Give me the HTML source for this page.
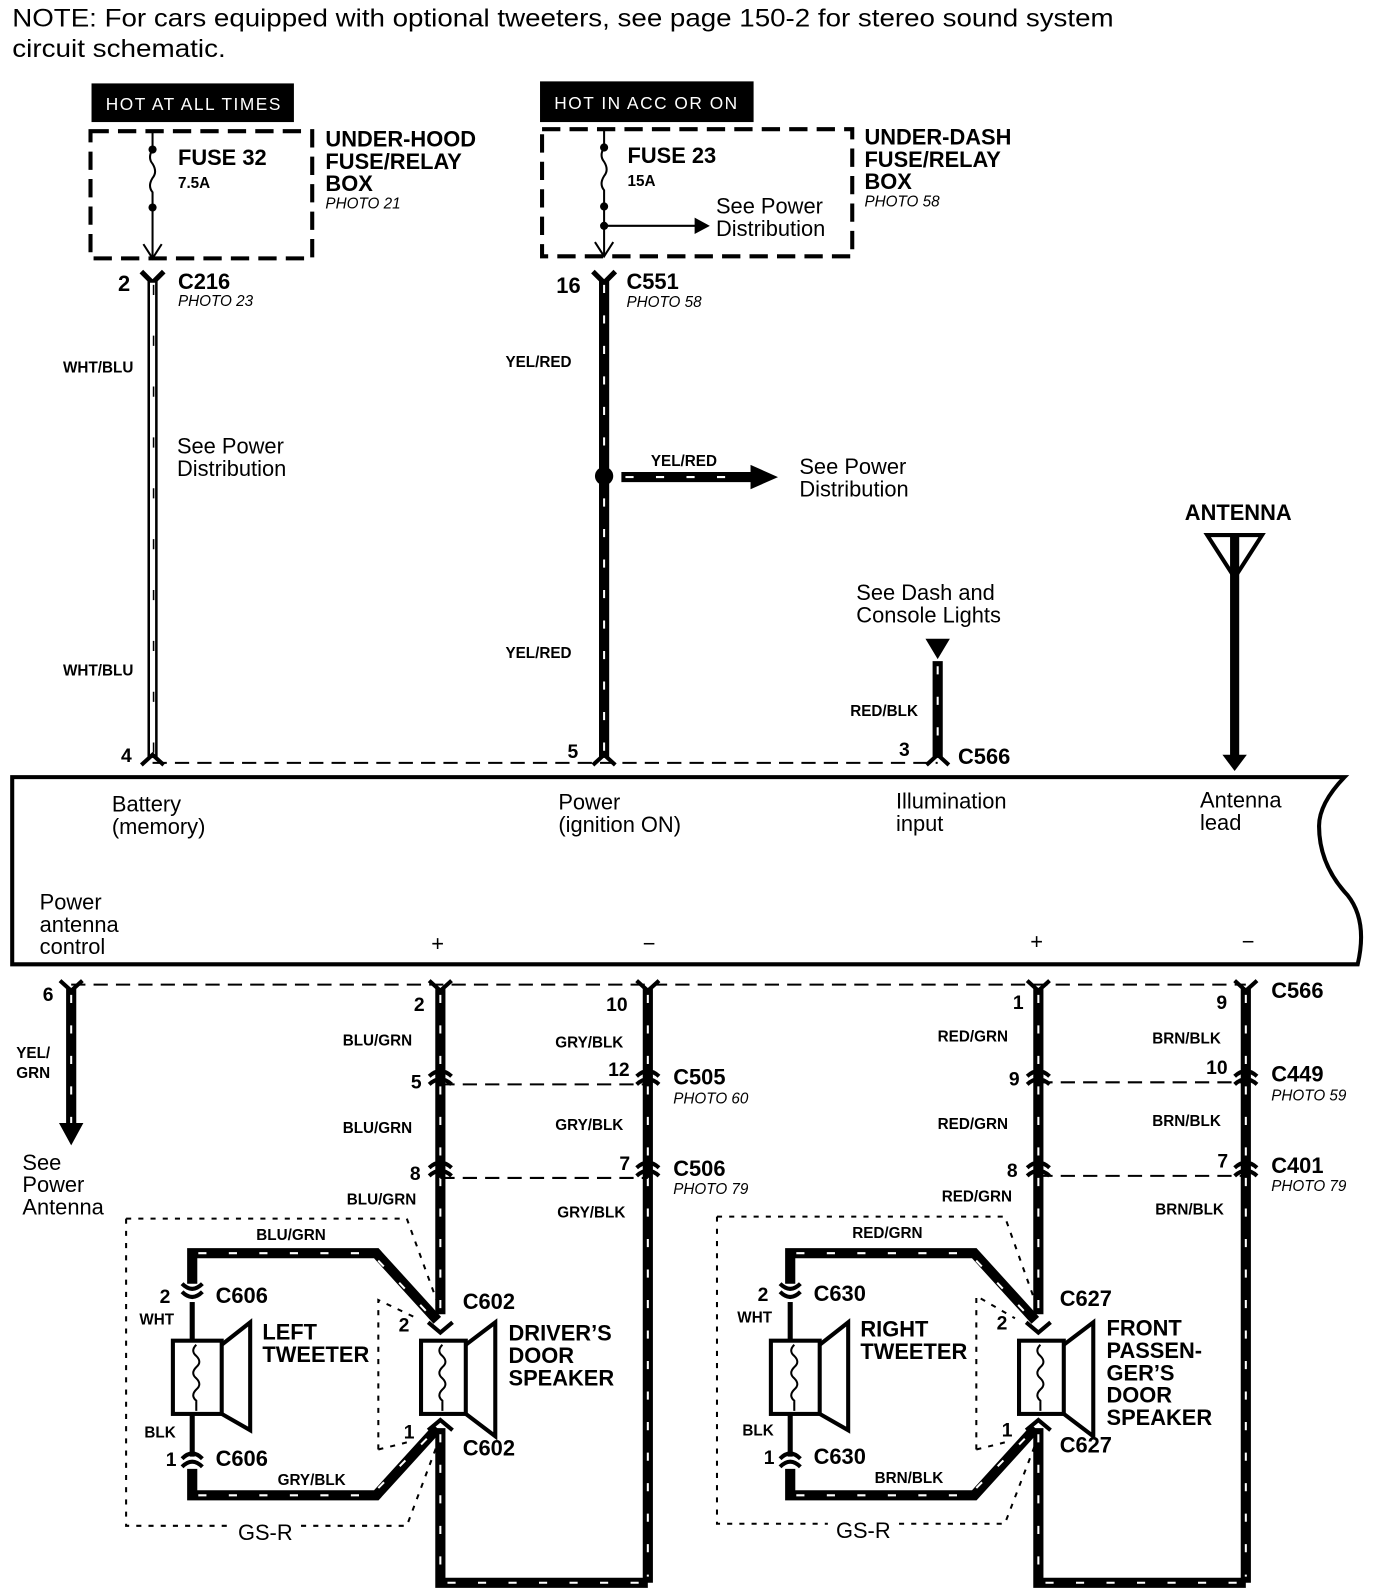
<!DOCTYPE html>
<html><head><meta charset="utf-8"><style>
html,body{margin:0;padding:0;background:#fff;}
svg{display:block;font-family:"Liberation Sans",sans-serif;}
.b{font-weight:bold;}
text[font-size="20"]{font-size:21.5px;}
text[font-size="14"]{font-size:15px;}
text[font-size="18"]{font-size:19px;}
.w{fill:none;stroke:#000;stroke-width:10;}
.s{fill:none;stroke:#fff;stroke-width:2;stroke-dasharray:8 22;}
.d{fill:none;stroke:#000;stroke-width:2;stroke-dasharray:14 8;}
.dd{fill:none;stroke:#000;stroke-width:2;stroke-dasharray:5 7;}
.bx{fill:none;stroke:#000;stroke-width:4;stroke-dasharray:18 9;}
</style></head><body>
<svg width="1376" height="1596" viewBox="0 0 1353 1569" preserveAspectRatio="none" xmlns="http://www.w3.org/2000/svg">
<text x="12" y="26" style="font-size:25px" textLength="1083" lengthAdjust="spacingAndGlyphs">NOTE: For cars equipped with optional tweeters, see page 150-2 for stereo sound system</text>
<text x="12" y="56" style="font-size:25px" textLength="210" lengthAdjust="spacingAndGlyphs">circuit schematic.</text>

<!-- Fuse box 1 -->
<rect x="90" y="82" width="199" height="38" fill="#000"/>
<text x="104" y="108" font-size="17" fill="#fff" letter-spacing="1.5">HOT AT ALL TIMES</text>
<rect x="89" y="129" width="218" height="125" class="bx"/>
<line x1="150" y1="129" x2="150" y2="145" stroke="#000" stroke-width="2"/>
<circle cx="150" cy="147" r="4"/>
<path d="M150 147 q-5 8 0 14 q5 8 0 14 q-5 8 0 14 l0 15" fill="none" stroke="#000" stroke-width="2"/>
<circle cx="150" cy="204" r="4"/>
<line x1="150" y1="204" x2="150" y2="254" stroke="#000" stroke-width="2"/>
<path d="M141 240 L150 254 L159 240" fill="none" stroke="#000" stroke-width="2"/>
<text x="175" y="162" font-size="20" class="b">FUSE 32</text>
<text x="175" y="185" font-size="14" class="b">7.5A</text>
<text x="320" y="144" font-size="20" class="b">UNDER-HOOD</text>
<text x="320" y="166" font-size="20" class="b">FUSE/RELAY</text>
<text x="320" y="188" font-size="20" class="b">BOX</text>
<text x="320" y="205" font-size="14" font-style="italic">PHOTO 21</text>

<!-- C216 wire -->
<path d="M139 267 L150 278 L161 267" fill="none" stroke="#000" stroke-width="5"/>
<line x1="150" y1="276" x2="150" y2="745" stroke="#000" stroke-width="10"/>
<line x1="150" y1="278" x2="150" y2="743" stroke="#fff" stroke-width="5"/>
<line x1="151" y1="280" x2="151" y2="743" stroke="#000" stroke-width="1.5" stroke-dasharray="10 40"/>
<path d="M139 752 L150 742 L161 752" fill="none" stroke="#000" stroke-width="4"/>
<text x="116" y="286" font-size="20" class="b">2</text>
<text x="175" y="284" font-size="20" class="b">C216</text>
<text x="175" y="301" font-size="14" font-style="italic">PHOTO 23</text>
<text x="62" y="366" font-size="14" class="b">WHT/BLU</text>
<text x="62" y="664" font-size="14" class="b">WHT/BLU</text>
<text x="174" y="446" font-size="20">See Power</text>
<text x="174" y="468" font-size="20">Distribution</text>
<text x="119" y="749" font-size="18" class="b">4</text>

<!-- Fuse box 2 -->
<rect x="531" y="80" width="210" height="40" fill="#000"/>
<text x="545" y="107" font-size="17" fill="#fff" letter-spacing="1.5">HOT IN ACC OR ON</text>
<rect x="533" y="127" width="305" height="125" class="bx"/>
<line x1="594" y1="127" x2="594" y2="143" stroke="#000" stroke-width="2"/>
<circle cx="594" cy="145" r="4"/>
<path d="M594 145 q-5 8 0 14 q5 8 0 14 q-5 8 0 14 l0 16" fill="none" stroke="#000" stroke-width="2"/>
<circle cx="594" cy="203" r="4"/>
<circle cx="594" cy="222" r="4"/>
<line x1="594" y1="203" x2="594" y2="252" stroke="#000" stroke-width="2"/>
<path d="M585 238 L594 252 L603 238" fill="none" stroke="#000" stroke-width="2"/>
<line x1="594" y1="222" x2="686" y2="222" stroke="#000" stroke-width="2"/>
<path d="M683 214 L698 222 L683 230 Z"/>
<text x="617" y="160" font-size="20" class="b">FUSE 23</text>
<text x="617" y="183" font-size="14" class="b">15A</text>
<text x="704" y="210" font-size="20">See Power</text>
<text x="704" y="232" font-size="20">Distribution</text>
<text x="850" y="142" font-size="20" class="b">UNDER-DASH</text>
<text x="850" y="164" font-size="20" class="b">FUSE/RELAY</text>
<text x="850" y="186" font-size="20" class="b">BOX</text>
<text x="850" y="203" font-size="14" font-style="italic">PHOTO 58</text>

<!-- C551 wire -->
<path d="M583 267 L594 278 L605 267" fill="none" stroke="#000" stroke-width="5"/>
<line x1="594" y1="276" x2="594" y2="745" class="w"/>
<line x1="594" y1="280" x2="594" y2="743" class="s"/>
<path d="M583 752 L594 742 L605 752" fill="none" stroke="#000" stroke-width="4"/>
<text x="547" y="288" font-size="20" class="b">16</text>
<text x="616" y="284" font-size="20" class="b">C551</text>
<text x="616" y="302" font-size="14" font-style="italic">PHOTO 58</text>
<text x="497" y="361" font-size="14" class="b">YEL/RED</text>
<text x="497" y="647" font-size="14" class="b">YEL/RED</text>
<circle cx="594" cy="468" r="9"/>
<line x1="611" y1="469" x2="740" y2="469" class="w"/>
<line x1="615" y1="469" x2="735" y2="469" class="s"/>
<path d="M738 457 L765 469 L738 481 Z"/>
<text x="640" y="458" font-size="14" class="b">YEL/RED</text>
<text x="786" y="466" font-size="20">See Power</text>
<text x="786" y="488" font-size="20">Distribution</text>
<text x="558" y="745" font-size="18" class="b">5</text>

<!-- Illumination -->
<text x="842" y="590" font-size="20">See Dash and</text>
<text x="842" y="612" font-size="20">Console Lights</text>
<path d="M910 628 L934 628 L922 648 Z"/>
<line x1="922" y1="650" x2="922" y2="745" class="w"/>
<line x1="922" y1="655" x2="922" y2="743" class="s"/>
<path d="M911 752 L922 742 L933 752" fill="none" stroke="#000" stroke-width="4"/>
<text x="836" y="704" font-size="14" class="b">RED/BLK</text>
<text x="884" y="743" font-size="18" class="b">3</text>
<text x="942" y="751" font-size="20" class="b">C566</text>

<!-- Antenna -->
<text x="1165" y="511" font-size="20" class="b">ANTENNA</text>
<path d="M1187 526 L1241 526 L1214 568 Z" fill="none" stroke="#000" stroke-width="4"/>
<line x1="1214" y1="526" x2="1214" y2="745" stroke="#000" stroke-width="9"/>
<path d="M1202 742 L1226 742 L1214 758 Z"/>

<line x1="150" y1="750" x2="922" y2="750" class="d"/>

<!-- main box -->
<path d="M12 764 L1322 764 Q1297 790 1297 812 Q1297 850 1325 880 Q1345 905 1335 948 L12 948 Z" fill="none" stroke="#000" stroke-width="4"/>
<text x="110" y="798" font-size="20">Battery</text>
<text x="110" y="820" font-size="20">(memory)</text>
<text x="549" y="796" font-size="20">Power</text>
<text x="549" y="818" font-size="20">(ignition ON)</text>
<text x="881" y="795" font-size="20">Illumination</text>
<text x="881" y="817" font-size="20">input</text>
<text x="1180" y="794" font-size="20">Antenna</text>
<text x="1180" y="816" font-size="20">lead</text>
<text x="39" y="894" font-size="20">Power</text>
<text x="39" y="916" font-size="20">antenna</text>
<text x="39" y="938" font-size="20">control</text>
<text x="424" y="935" font-size="20">+</text>
<text x="632" y="935" font-size="20">−</text>
<text x="1013" y="933" font-size="20">+</text>
<text x="1221" y="933" font-size="20">−</text>

<line x1="70" y1="968" x2="1225" y2="968" class="d"/>
<text x="1250" y="981" font-size="20" class="b">C566</text>

<!-- power antenna wire -->
<path d="M59 964 L70 974 L81 964" fill="none" stroke="#000" stroke-width="4"/>
<line x1="70" y1="972" x2="70" y2="1108" class="w"/>
<line x1="70" y1="978" x2="70" y2="1105" class="s"/>
<path d="M58 1104 L82 1104 L70 1126 Z"/>
<text x="42" y="984" font-size="18" class="b">6</text>
<text x="16" y="1040" font-size="14" class="b">YEL/</text>
<text x="16" y="1060" font-size="14" class="b">GRN</text>
<text x="22" y="1150" font-size="20">See</text>
<text x="22" y="1172" font-size="20">Power</text>
<text x="22" y="1194" font-size="20">Antenna</text>

<!-- left speaker section -->
<g>
<path d="M422 964 L433 974 L444 964" fill="none" stroke="#000" stroke-width="4"/>
<path d="M626 964 L637 974 L648 964" fill="none" stroke="#000" stroke-width="4"/>
<line x1="433" y1="972" x2="433" y2="1292" class="w"/>
<line x1="433" y1="978" x2="433" y2="1290" class="s"/>
<line x1="637" y1="972" x2="637" y2="1556" class="w"/>
<line x1="637" y1="978" x2="637" y2="1550" class="s"/>
<path d="M433 1404 L433 1556 L637 1556" class="w"/>
<line x1="433" y1="1410" x2="433" y2="1550" class="s"/>
<line x1="440" y1="1556" x2="632" y2="1556" class="s"/>
<g fill="none" stroke="#000" stroke-width="4">
<path d="M422 1058 Q433 1048 444 1058"/><path d="M422 1066 Q433 1056 444 1066"/>
<path d="M626 1058 Q637 1048 648 1058"/><path d="M626 1066 Q637 1056 648 1066"/>
<path d="M422 1148 Q433 1138 444 1148"/><path d="M422 1156 Q433 1146 444 1156"/>
<path d="M626 1148 Q637 1138 648 1148"/><path d="M626 1156 Q637 1146 648 1156"/>
</g>
<line x1="433" y1="1066" x2="637" y2="1066" class="d"/>
<line x1="433" y1="1158" x2="637" y2="1158" class="d"/>
<text x="407" y="994" font-size="18" class="b">2</text>
<text x="596" y="994" font-size="18" class="b">10</text>
<text x="337" y="1028" font-size="14" class="b">BLU/GRN</text>
<text x="337" y="1114" font-size="14" class="b">BLU/GRN</text>
<text x="341" y="1184" font-size="14" class="b">BLU/GRN</text>
<text x="546" y="1030" font-size="14" class="b">GRY/BLK</text>
<text x="546" y="1111" font-size="14" class="b">GRY/BLK</text>
<text x="548" y="1197" font-size="14" class="b">GRY/BLK</text>
<text x="404" y="1070" font-size="18" class="b">5</text>
<text x="598" y="1058" font-size="18" class="b">12</text>
<text x="403" y="1160" font-size="18" class="b">8</text>
<text x="609" y="1150" font-size="18" class="b">7</text>
<path d="M421 1300 L433 1310 L445 1300" fill="none" stroke="#000" stroke-width="4"/>
<path d="M421 1406 L433 1396 L445 1406" fill="none" stroke="#000" stroke-width="4"/>
<rect x="414" y="1318" width="44" height="72" fill="none" stroke="#000" stroke-width="4"/>
<path d="M458 1322 L487 1300 L487 1412 L458 1390" fill="none" stroke="#000" stroke-width="4"/>
<path d="M435 1322 q-6 6 0 11 q6 6 0 11 q-6 6 0 11 q6 6 0 11 q-6 6 0 11 l0 10" fill="none" stroke="#000" stroke-width="2"/>
<text x="500" y="1318" font-size="20" class="b">DRIVER’S</text>
<text x="500" y="1340" font-size="20" class="b">DOOR</text>
<text x="500" y="1362" font-size="20" class="b">SPEAKER</text>
<text x="455" y="1287" font-size="20" class="b">C602</text>
<text x="455" y="1431" font-size="20" class="b">C602</text>
<text x="392" y="1309" font-size="18" class="b">2</text>
<text x="397" y="1414" font-size="18" class="b">1</text>
<path d="M189 1262 L189 1232 L370 1232 L430 1298" class="w"/>
<path d="M195 1232 L365 1232 L420 1290" class="s"/>
<path d="M189 1444 L189 1470 L370 1470 L430 1404" class="w"/>
<path d="M195 1470 L365 1470 L420 1414" class="s"/>
<path d="M179 1262 Q189 1272 199 1262" fill="none" stroke="#000" stroke-width="4"/>
<path d="M179 1270 Q189 1280 199 1270" fill="none" stroke="#000" stroke-width="4"/>
<path d="M179 1434 Q189 1424 199 1434" fill="none" stroke="#000" stroke-width="4"/>
<path d="M179 1442 Q189 1432 199 1442" fill="none" stroke="#000" stroke-width="4"/>
<line x1="189" y1="1280" x2="189" y2="1318" stroke="#000" stroke-width="5"/>
<line x1="189" y1="1390" x2="189" y2="1432" stroke="#000" stroke-width="5"/>
<rect x="170" y="1318" width="48" height="72" fill="none" stroke="#000" stroke-width="4"/>
<path d="M218 1322 L246 1300 L246 1406 L218 1390" fill="none" stroke="#000" stroke-width="4"/>
<path d="M193 1322 q-6 6 0 11 q6 6 0 11 q-6 6 0 11 q6 6 0 11 q-6 6 0 11 l0 10" fill="none" stroke="#000" stroke-width="2"/>
<text x="258" y="1317" font-size="20" class="b">LEFT</text>
<text x="258" y="1339" font-size="20" class="b">TWEETER</text>
<text x="212" y="1281" font-size="20" class="b">C606</text>
<text x="212" y="1441" font-size="20" class="b">C606</text>
<text x="157" y="1281" font-size="18" class="b">2</text>
<text x="137" y="1302" font-size="14" class="b">WHT</text>
<text x="142" y="1413" font-size="14" class="b">BLK</text>
<text x="163" y="1441" font-size="18" class="b">1</text>
<text x="252" y="1219" font-size="14" class="b">BLU/GRN</text>
<text x="273" y="1460" font-size="14" class="b">GRY/BLK</text>
<path d="M124 1198 L400 1198 L430 1280" class="dd"/>
<path d="M124 1198 L124 1500 L226 1500" class="dd"/>
<path d="M296 1500 L400 1500 L430 1420" class="dd"/>
<path d="M372 1425 L372 1278 L410 1296" class="dd"/>
<path d="M372 1425 L400 1418" class="dd"/>
<text x="234" y="1514" font-size="20">GS-R</text>
</g>

<!-- right section -->
<g transform="translate(588,0)">
<path d="M422 964 L433 974 L444 964" fill="none" stroke="#000" stroke-width="4"/>
<path d="M626 964 L637 974 L648 964" fill="none" stroke="#000" stroke-width="4"/>
<line x1="433" y1="972" x2="433" y2="1292" class="w"/>
<line x1="433" y1="978" x2="433" y2="1290" class="s"/>
<line x1="637" y1="972" x2="637" y2="1556" class="w"/>
<line x1="637" y1="978" x2="637" y2="1550" class="s"/>
<path d="M433 1404 L433 1556 L637 1556" class="w"/>
<line x1="433" y1="1410" x2="433" y2="1550" class="s"/>
<line x1="440" y1="1556" x2="632" y2="1556" class="s"/>
<g fill="none" stroke="#000" stroke-width="4">
<path d="M422 1058 Q433 1048 444 1058"/><path d="M422 1066 Q433 1056 444 1066"/>
<path d="M626 1058 Q637 1048 648 1058"/><path d="M626 1066 Q637 1056 648 1066"/>
<path d="M422 1148 Q433 1138 444 1148"/><path d="M422 1156 Q433 1146 444 1156"/>
<path d="M626 1148 Q637 1138 648 1148"/><path d="M626 1156 Q637 1146 648 1156"/>
</g>
<line x1="433" y1="1064" x2="637" y2="1064" class="d"/>
<line x1="433" y1="1156" x2="637" y2="1156" class="d"/>
<text x="408" y="992" font-size="18" class="b">1</text>
<text x="608" y="992" font-size="18" class="b">9</text>
<text x="334" y="1024" font-size="14" class="b">RED/GRN</text>
<text x="334" y="1110" font-size="14" class="b">RED/GRN</text>
<text x="338" y="1181" font-size="14" class="b">RED/GRN</text>
<text x="545" y="1026" font-size="14" class="b">BRN/BLK</text>
<text x="545" y="1107" font-size="14" class="b">BRN/BLK</text>
<text x="548" y="1194" font-size="14" class="b">BRN/BLK</text>
<text x="404" y="1067" font-size="18" class="b">9</text>
<text x="598" y="1056" font-size="18" class="b">10</text>
<text x="402" y="1157" font-size="18" class="b">8</text>
<text x="609" y="1148" font-size="18" class="b">7</text>
<path d="M421 1300 L433 1310 L445 1300" fill="none" stroke="#000" stroke-width="4"/>
<path d="M421 1406 L433 1396 L445 1406" fill="none" stroke="#000" stroke-width="4"/>
<rect x="414" y="1318" width="44" height="72" fill="none" stroke="#000" stroke-width="4"/>
<path d="M458 1322 L487 1300 L487 1412 L458 1390" fill="none" stroke="#000" stroke-width="4"/>
<path d="M435 1322 q-6 6 0 11 q6 6 0 11 q-6 6 0 11 q6 6 0 11 q-6 6 0 11 l0 10" fill="none" stroke="#000" stroke-width="2"/>
<text x="500" y="1313" font-size="20" class="b">FRONT</text>
<text x="500" y="1335" font-size="20" class="b">PASSEN-</text>
<text x="500" y="1357" font-size="20" class="b">GER’S</text>
<text x="500" y="1379" font-size="20" class="b">DOOR</text>
<text x="500" y="1401" font-size="20" class="b">SPEAKER</text>
<text x="454" y="1284" font-size="20" class="b">C627</text>
<text x="454" y="1428" font-size="20" class="b">C627</text>
<text x="392" y="1307" font-size="18" class="b">2</text>
<text x="397" y="1412" font-size="18" class="b">1</text>
<path d="M189 1262 L189 1232 L370 1232 L430 1298" class="w"/>
<path d="M195 1232 L365 1232 L420 1290" class="s"/>
<path d="M189 1444 L189 1470 L370 1470 L430 1404" class="w"/>
<path d="M195 1470 L365 1470 L420 1414" class="s"/>
<path d="M179 1262 Q189 1272 199 1262" fill="none" stroke="#000" stroke-width="4"/>
<path d="M179 1270 Q189 1280 199 1270" fill="none" stroke="#000" stroke-width="4"/>
<path d="M179 1434 Q189 1424 199 1434" fill="none" stroke="#000" stroke-width="4"/>
<path d="M179 1442 Q189 1432 199 1442" fill="none" stroke="#000" stroke-width="4"/>
<line x1="189" y1="1280" x2="189" y2="1318" stroke="#000" stroke-width="5"/>
<line x1="189" y1="1390" x2="189" y2="1432" stroke="#000" stroke-width="5"/>
<rect x="170" y="1318" width="48" height="72" fill="none" stroke="#000" stroke-width="4"/>
<path d="M218 1322 L246 1300 L246 1406 L218 1390" fill="none" stroke="#000" stroke-width="4"/>
<path d="M193 1322 q-6 6 0 11 q6 6 0 11 q-6 6 0 11 q6 6 0 11 q-6 6 0 11 l0 10" fill="none" stroke="#000" stroke-width="2"/>
<text x="258" y="1314" font-size="20" class="b">RIGHT</text>
<text x="258" y="1336" font-size="20" class="b">TWEETER</text>
<text x="212" y="1279" font-size="20" class="b">C630</text>
<text x="212" y="1439" font-size="20" class="b">C630</text>
<text x="157" y="1279" font-size="18" class="b">2</text>
<text x="137" y="1300" font-size="14" class="b">WHT</text>
<text x="142" y="1411" font-size="14" class="b">BLK</text>
<text x="163" y="1439" font-size="18" class="b">1</text>
<text x="250" y="1217" font-size="14" class="b">RED/GRN</text>
<text x="272" y="1458" font-size="14" class="b">BRN/BLK</text>
<path d="M117 1196 L400 1196 L430 1280" class="dd"/>
<path d="M117 1196 L117 1498 L226 1498" class="dd"/>
<path d="M296 1498 L400 1498 L430 1420" class="dd"/>
<path d="M372 1425 L372 1274 L410 1296" class="dd"/>
<path d="M372 1425 L400 1418" class="dd"/>
<text x="234" y="1512" font-size="20">GS-R</text>
</g>
<text x="662" y="1066" font-size="20" class="b">C505</text>
<text x="662" y="1085" font-size="14" font-style="italic">PHOTO 60</text>
<text x="662" y="1156" font-size="20" class="b">C506</text>
<text x="662" y="1174" font-size="14" font-style="italic">PHOTO 79</text>
<text x="1250" y="1063" font-size="20" class="b">C449</text>
<text x="1250" y="1082" font-size="14" font-style="italic">PHOTO 59</text>
<text x="1250" y="1153" font-size="20" class="b">C401</text>
<text x="1250" y="1171" font-size="14" font-style="italic">PHOTO 79</text>
</svg>
</body></html>
